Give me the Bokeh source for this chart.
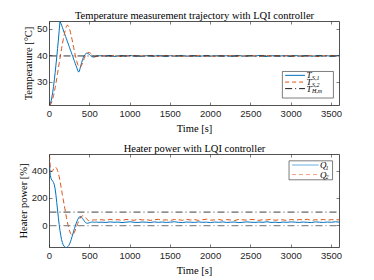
from bokeh.plotting import figure
from bokeh.layouts import column
from bokeh.models import Range1d, FixedTicker, LinearAxis, BoxAnnotation, Label, Span
from bokeh.embed import file_html
from bokeh.resources import INLINE

# ---------------- data ----------------
t_early = list(range(0, 601, 10))
t_late = list(range(650, 3601, 50))
time_s = t_early + t_late

T_S1_early = [21.3, 22.0, 23.0, 24.5, 26.3, 28.5, 31.0, 33.7, 36.6, 39.6,
              42.8, 46.0, 49.5, 53.0, 52.4, 51.6, 50.8, 49.9, 49.0, 48.2,
              47.3, 46.5, 45.6, 44.8, 43.9, 43.1, 42.2, 41.4, 40.5, 39.7,
              38.8, 38.0, 37.1, 36.3, 35.4, 34.6, 33.9, 34.2, 35.3, 36.5,
              37.6, 38.6, 39.4, 40.0, 40.5, 40.8, 41.0, 41.0, 40.9, 40.7,
              40.4, 40.1, 39.9, 39.7, 39.6, 39.6, 39.7, 39.8, 39.9, 40.0, 40.0]
T_S1_late = [40.1, 39.9, 40.2, 39.8, 40.0, 40.1, 39.9, 40.2, 39.9, 40.0,
             39.8, 40.1, 40.0, 39.9, 40.2, 40.0, 39.8, 40.1, 39.9, 40.0,
             40.2, 39.9, 40.0, 40.1, 39.8, 40.0, 40.2, 39.9, 40.1, 40.0,
             39.9, 40.1, 39.8, 40.0, 40.2, 39.9, 40.0, 40.1, 39.9, 40.2,
             40.0, 39.8, 40.1, 40.0, 39.9, 40.1, 40.0, 39.8, 40.2, 39.9,
             40.0, 40.1, 39.9, 40.0, 40.2, 39.9, 40.1, 39.8, 40.0, 40.1]

T_S2_early = [21.3, 21.5, 22.0, 22.8, 23.8, 25.0, 26.4, 28.0, 29.7, 31.5,
              33.4, 35.3, 37.2, 39.1, 41.0, 42.8, 44.5, 46.1, 47.6, 49.0,
              50.2, 51.1, 51.6, 51.5, 51.0, 50.1, 48.9, 47.6, 46.2, 44.7,
              43.2, 41.7, 40.3, 39.0, 37.8, 36.8, 36.1, 35.7, 35.7, 36.0,
              36.6, 37.4, 38.2, 39.0, 39.7, 40.3, 40.8, 41.1, 41.3, 41.3,
              41.2, 41.0, 40.7, 40.4, 40.1, 39.9, 39.7, 39.7, 39.8, 39.9, 40.0]
T_S2_late = [39.9, 40.1, 39.8, 40.2, 40.0, 39.8, 40.1, 39.9, 40.2, 39.8,
             40.1, 39.9, 40.2, 40.0, 39.8, 40.1, 40.2, 39.9, 40.0, 40.2,
             39.8, 40.1, 39.9, 40.0, 40.2, 39.8, 40.0, 40.1, 39.8, 40.2,
             40.0, 39.9, 40.2, 39.8, 40.0, 40.1, 39.9, 40.2, 40.0, 39.8,
             40.1, 40.2, 39.9, 40.0, 40.1, 39.8, 40.2, 40.0, 39.9, 40.1,
             39.8, 40.0, 40.2, 39.9, 39.8, 40.1, 40.0, 40.2, 39.9, 40.0]

T_ref_time = [0, 3600]
T_ref = [40, 40]

Q1_early = [440, 370, 345, 335, 328, 318, 300, 270, 225, 170,
            115, 60, 10, -35, -72, -102, -125, -140, -150, -156,
            -159, -160, -158, -153, -145, -133, -118, -100, -80, -60,
            -40, -20, -2, 15, 31, 45, 56, 64, 68, 67,
            62, 54, 45, 36, 28, 22, 19, 18, 19, 21,
            23, 25, 26, 27, 27, 26, 25, 26, 27, 26, 25]
Q1_late = [26, 24, 28, 25, 27, 23, 26, 29, 25, 24,
           27, 26, 23, 28, 25, 27, 24, 26, 29, 25,
           23, 27, 26, 24, 28, 25, 26, 23, 27, 25,
           28, 24, 26, 27, 23, 25, 28, 26, 24, 27,
           25, 29, 24, 26, 23, 27, 25, 28, 26, 24,
           27, 25, 23, 28, 26, 24, 27, 25, 29, 26]

Q2_early = [523, 430, 400, 398, 405, 415, 425, 430, 428, 420,
            405, 385, 360, 330, 297, 262, 228, 195, 162, 128,
            95, 62, 32, 5, -20, -40, -55, -64, -67, -65,
            -58, -47, -33, -17, 0, 16, 31, 44, 55, 64,
            70, 73, 73, 70, 65, 58, 51, 44, 39, 36,
            35, 36, 38, 40, 42, 43, 43, 42, 43, 44, 43]
Q2_late = [44, 39, 47, 41, 45, 38, 46, 43, 40, 48,
           42, 45, 39, 44, 47, 41, 43, 38, 46, 44,
           40, 47, 42, 45, 39, 44, 48, 41, 43, 46,
           40, 45, 42, 38, 47, 43, 41, 46, 44, 39,
           45, 42, 48, 40, 44, 43, 38, 46, 41, 45,
           43, 47, 39, 44, 42, 46, 40, 45, 43, 44]

Q_upper = 100
Q_lower = 0

x_ticks = [0, 500, 1000, 1500, 2000, 2500, 3000, 3500]
T_ticks = [30, 40, 50]
Q_ticks = [0, 200, 400]

T_S1 = T_S1_early + T_S1_late
T_S2 = T_S2_early + T_S2_late
Q1 = Q1_early + Q1_late
Q2 = Q2_early + Q2_late

# ---------------- style ----------------
BLUE = "#0072BD"
ORANGE = "#D95319"
AX = "#262626"
SERIF = "Liberation Serif"
SANS = "Liberation Sans"
DASHDOT = "7 3 1 3"


def style_axis(ax, show_labels=True, label_standoff=3, title_standoff=1):
    ax.axis_line_color = None
    ax.major_tick_in = 3
    ax.major_tick_out = 0
    ax.major_tick_line_color = AX
    ax.major_tick_line_width = 0.6
    ax.minor_tick_line_color = None
    if show_labels:
        ax.major_label_text_font = SANS
        ax.major_label_text_font_size = "9.5px"
        ax.major_label_text_color = AX
        ax.major_label_standoff = label_standoff
        ax.axis_label_text_font = SERIF
        ax.axis_label_text_font_size = "10.5px"
        ax.axis_label_text_font_style = "normal"
        ax.axis_label_text_color = "black"
        ax.axis_label_standoff = title_standoff
    else:
        ax.major_label_text_color = None
        ax.major_label_text_font_size = "1px"
        ax.major_label_standoff = 0


def make_fig(title, ylab, yr, yticks, height, top_border, bottom_border):
    p = figure(width=372, height=height,
               x_range=Range1d(0, 3600), y_range=Range1d(*yr),
               output_backend="svg", toolbar_location=None,
               min_border_left=49, min_border_right=33,
               min_border_top=top_border, min_border_bottom=bottom_border)
    p.title.text = title
    p.title.align = "center"
    p.title.text_font = SERIF
    p.title.text_font_size = "10.5px"
    p.title.text_font_style = "normal"
    p.title.text_color = "black"
    p.title.standoff = 2
    p.title.offset = 0
    p.grid.visible = False
    p.outline_line_color = AX
    p.outline_line_width = 0.8
    p.background_fill_color = "white"
    p.border_fill_color = "white"
    for ax in p.xaxis:
        ax.ticker = FixedTicker(ticks=x_ticks)
        ax.axis_label = "Time [s]"
        style_axis(ax, True, 5, 3)
    for ax in p.yaxis:
        ax.ticker = FixedTicker(ticks=yticks)
        ax.axis_label = ylab
        style_axis(ax, True, 2, 0)
    rax = LinearAxis(ticker=FixedTicker(ticks=yticks))
    tax = LinearAxis(ticker=FixedTicker(ticks=x_ticks))
    style_axis(rax, False)
    style_axis(tax, False)
    p.add_layout(rax, "right")
    p.add_layout(tax, "above")
    return p


def legend(p, yr, box, rows):
    """box = (left, right, top, bottom) as fractions of the frame (from the
    lower-left corner); rows = (yfrac, color, dash, main, sub, lx0, lx1, tx)."""
    x0, x1 = 0.0, 3600.0
    y0, y1 = yr
    fx = lambda f: x0 + f * (x1 - x0)
    fy = lambda f: y0 + f * (y1 - y0)
    l, r, t, b = box
    p.add_layout(BoxAnnotation(left=fx(l), right=fx(r), top=fy(t), bottom=fy(b),
                               fill_color="white", fill_alpha=1.0,
                               line_color=AX, line_width=0.6, line_alpha=1.0))
    for yf, color, dash, main, sub, lx0, lx1, tx in rows:
        seg = p.segment(x0=[fx(lx0)], y0=[fy(yf)], x1=[fx(lx1)], y1=[fy(yf)],
                        line_color=color, line_width=1.0, line_dash=dash)
        seg.level = "overlay"
        lab = Label(x=fx(tx), y=fy(yf), text=main, text_font=SERIF,
                    text_font_size="9px", text_font_style="italic",
                    text_baseline="middle", text_align="left", text_color="black",
                    level="overlay")
        p.add_layout(lab)
        lab2 = Label(x=fx(tx), y=fy(yf), x_offset=5.5, y_offset=-2.5, text=sub,
                     text_font=SERIF, text_font_size="6px",
                     text_font_style="italic", text_baseline="middle",
                     text_align="left", text_color="black", level="overlay")
        p.add_layout(lab2)


# ---------------- top figure ----------------
T_range = (21.3, 53.0)
p1 = make_fig("Temperature measurement trajectory with LQI controller",
              "Temperature [°C]", T_range, T_ticks, 136, 21, 20)
p1.line(time_s, T_S1, line_color=BLUE, line_width=1.0)
p1.line(time_s, T_S2, line_color=ORANGE, line_width=1.0, line_dash="5 3")
p1.line(T_ref_time, T_ref, line_color="#1a1a1a", line_width=0.9, line_dash=DASHDOT)
legend(p1, T_range, (0.803, 0.979, 0.405, 0.089),
       [(0.359, BLUE, "solid", "T", "S,1", 0.8125, 0.881, 0.886),
        (0.279, ORANGE, "4 3", "T", "S,2", 0.8125, 0.881, 0.886),
        (0.201, "#1a1a1a", DASHDOT, "T", "H,m", 0.8125, 0.881, 0.886)])

# ---------------- bottom figure ----------------
Q_range = (-160.0, 523.0)
p2 = make_fig("Heater power with LQI controller",
              "Heater power [%]", Q_range, Q_ticks, 142, 18, 29)
p2.add_layout(Span(location=Q_upper, dimension="width", line_color="#2a2a2a",
                   line_width=0.9, line_dash=DASHDOT))
p2.add_layout(Span(location=Q_lower, dimension="width", line_color="#8c8c8c",
                   line_width=1.3, line_dash=DASHDOT))
p2.line(time_s, Q1, line_color=BLUE, line_width=1.0)
p2.line(time_s, Q2, line_color=ORANGE, line_width=1.0, line_dash="5 3")
legend(p2, Q_range, (0.826, 0.976, 0.932, 0.728),
       [(0.887, "#6aaee0", "solid", "Q", "1", 0.836, 0.928, 0.933),
        (0.784, "#f0a080", "4 3", "Q", "2", 0.836, 0.928, 0.933)])

layout = column(p1, p2, spacing=0)
open("out.html", "w").write(file_html(layout, INLINE))
